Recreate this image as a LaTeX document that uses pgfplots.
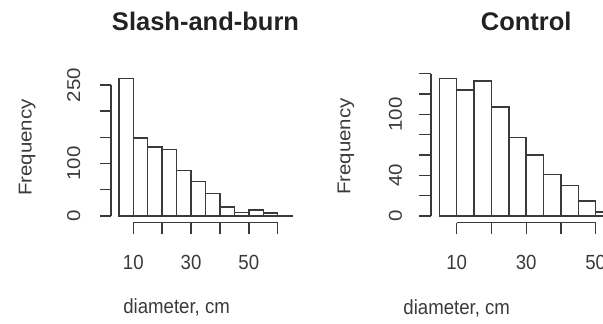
\documentclass[border=0pt]{standalone}
\usepackage{pgfplots}
\pgfplotsset{compat=1.18}
\usepackage{fontspec}
\setmainfont{Liberation Sans}
\usepackage{graphicx}
\definecolor{ink}{HTML}{3A3A3A}
\definecolor{tink}{HTML}{222222}
\newcommand{\hs}[1]{\scalebox{1}[1.1]{#1}}
\newcommand{\rs}[1]{\scalebox{1.1}[1]{#1}}
\newcommand{\lab}{\fontsize{18.6}{20}\selectfont}
\newcommand{\ttl}{\fontsize{25.5}{28}\selectfont\bfseries}
\tikzset{rline/.style={draw=ink, line width=1.4pt, line cap=butt}}

% Slash-and-burn: counts per 5 cm bin (left edges 5..60, closing edge 65)
\pgfplotstableread{
x y
5 262
10 149
15 132
20 127
25 87
30 66
35 43
40 17
45 7
50 11
55 6
60 1
65 1
}\slash
% Control: counts per 5 cm bin (left edges 5..50, closing edge 55)
\pgfplotstableread{
x y
5 135
10 124
15 133
20 107
25 77
30 60
35 41
40 30
45 15
50 4
55 4
}\control

\begin{document}
\begin{tikzpicture}
\path[use as bounding box] (0pt,0pt) rectangle (603pt,324pt);
\begin{scope}
\clip (0pt,0pt) rectangle (603pt,324pt);

% ---------------- Left panel ----------------
\begin{axis}[at={(104.42pt,97.52pt)}, anchor=south west, scale only axis,
  x=2.888pt, y=0.524pt, xmin=0, xmax=70, ymin=-20, ymax=280,
  enlargelimits=false, axis lines=none, clip=false,
  every axis plot/.append style={line width=1.5pt, draw=ink, fill=white}]
\addplot[ybar interval, fill=white, draw=ink, line width=1.5pt] table[x=x,y=y] {\slash};
\draw[rline] (axis cs:2.28,0) -- (axis cs:2.28,250);
\pgfplotsinvokeforeach{0,50,100,150,200,250}{
  \draw[rline] (axis cs:2.28,#1) -- ++(-11.5pt,0pt);}
\pgfplotsinvokeforeach{0,100,250}{
  \node[rotate=90, anchor=base, inner sep=0pt, font=\lab, text=ink]
    at ([xshift=-31pt]axis cs:2.28,#1) {\rs{#1}};}
\draw[rline] (axis cs:10,-12.8) -- (axis cs:60,-12.8);
\pgfplotsinvokeforeach{10,20,30,40,50,60}{
  \draw[rline] (axis cs:#1,-12.8) -- ++(0pt,-11.5pt);}
\pgfplotsinvokeforeach{10,30,50}{
  \node[anchor=base, inner sep=0pt, font=\lab, text=ink]
    at ([yshift=-46.6pt]axis cs:#1,-12.8) {\hs{#1}};}
\node[rotate=90, anchor=base, inner sep=0pt, font=\lab, text=ink]
  at ([xshift=-79.5pt]axis cs:2.28,130.7) {\rs{Frequency}};
\node[anchor=base, inner sep=0pt, font=\lab, text=ink]
  at (axis cs:25,-187) {\hs{diameter, cm}};
\node[anchor=base, inner sep=0pt, font=\ttl, text=tink]
  at (axis cs:35,354) {Slash-and-burn};
\end{axis}

% ---------------- Right panel ----------------
\begin{axis}[at={(421.95pt,97.83pt)}, anchor=south west, scale only axis,
  x=3.475pt, y=1.0167pt, xmin=0, xmax=70, ymin=-10, ymax=150,
  enlargelimits=false, axis lines=none, clip=false,
  every axis plot/.append style={line width=1.5pt, draw=ink, fill=white}]
\addplot[ybar interval, fill=white, draw=ink, line width=1.5pt] table[x=x,y=y] {\control};
\draw[rline] (axis cs:2.6,0) -- (axis cs:2.6,140);
\pgfplotsinvokeforeach{0,20,40,60,80,100,120,140}{
  \draw[rline] (axis cs:2.6,#1) -- ++(-11.5pt,0pt);}
\pgfplotsinvokeforeach{0,40,100}{
  \node[rotate=90, anchor=base, inner sep=0pt, font=\lab, text=ink]
    at ([xshift=-29pt]axis cs:2.6,#1) {\rs{#1}};}
\draw[rline] (axis cs:10,-6.6) -- (axis cs:50,-6.6);
\pgfplotsinvokeforeach{10,20,30,40,50}{
  \draw[rline] (axis cs:#1,-6.6) -- ++(0pt,-11.5pt);}
\pgfplotsinvokeforeach{10,30,50}{
  \node[anchor=base, inner sep=0pt, font=\lab, text=ink]
    at ([yshift=-46.6pt]axis cs:#1,-6.6) {\hs{#1}};}
\node[rotate=90, anchor=base, inner sep=0pt, font=\lab, text=ink]
  at ([xshift=-80.5pt]axis cs:2.6,68.2) {\rs{Frequency}};
\node[anchor=base, inner sep=0pt, font=\lab, text=ink]
  at (axis cs:10,-96.4) {\hs{diameter, cm}};
\node[anchor=base, inner sep=0pt, font=\ttl, text=tink]
  at (axis cs:30,182.5) {Control};
\end{axis}
\end{scope}
\end{tikzpicture}
\end{document}
